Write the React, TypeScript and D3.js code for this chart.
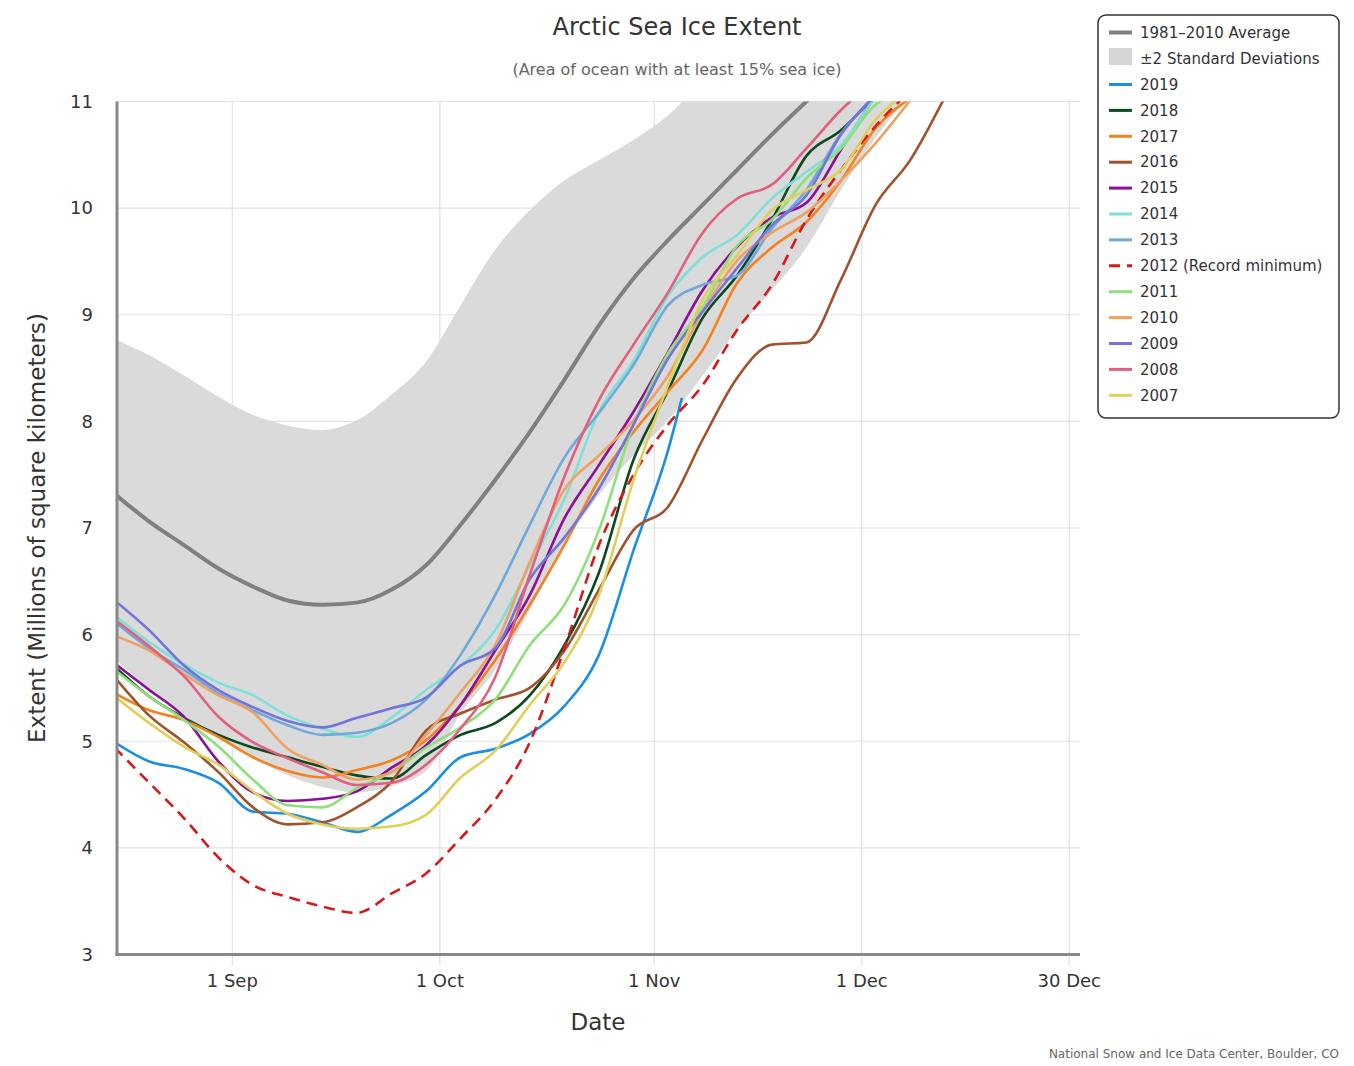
import React from "react";
import * as d3 from "d3";

// sample days (day of year), every 5 days from mid-August
const days = [227, 232, 237, 242, 247, 252, 257, 262, 267, 272, 277, 282, 287, 292, 297, 302, 307, 312, 317, 322, 327, 332, 337, 342, 347];

const avg = [7.32, 7.06, 6.84, 6.62, 6.45, 6.32, 6.28, 6.3, 6.42, 6.65, 7.03, 7.45, 7.9, 8.39, 8.9, 9.34, 9.7, 10.03, 10.36, 10.69, 11.0, 11.3];
const bandHi = [8.77, 8.62, 8.43, 8.23, 8.06, 7.96, 7.92, 8.01, 8.25, 8.56, 9.09, 9.61, 9.98, 10.26, 10.45, 10.64, 10.87, 11.2, 11.5, 11.8, 12.1, 12.4, 12.7, 13.0];
const bandLo = [5.78, 5.48, 5.24, 5.03, 4.84, 4.68, 4.57, 4.52, 4.58, 4.72, 5.26, 5.67, 6.23, 6.84, 7.31, 7.68, 8.01, 8.43, 8.86, 9.23, 9.63, 10.17, 10.66, 11.06];

const y2019 = [4.99, 4.81, 4.74, 4.61, 4.34, 4.32, 4.24, 4.15, 4.31, 4.53, 4.85, 4.93, 5.07, 5.33, 5.81, 6.79, 7.73];
const y2018 = [5.7, 5.42, 5.22, 5.06, 4.94, 4.85, 4.76, 4.68, 4.65, 4.87, 5.06, 5.17, 5.43, 5.9, 6.58, 7.64, 8.29, 8.97, 9.37, 9.89, 10.49, 10.73, 11.06];
const y2017 = [5.45, 5.29, 5.2, 5.04, 4.85, 4.72, 4.66, 4.73, 4.82, 5.01, 5.34, 5.76, 6.28, 6.84, 7.45, 7.9, 8.28, 8.67, 9.3, 9.63, 9.87, 10.26, 10.75, 11.03];
const y2016 = [5.6, 5.24, 4.99, 4.71, 4.38, 4.22, 4.24, 4.38, 4.62, 5.1, 5.26, 5.39, 5.5, 5.85, 6.42, 6.98, 7.2, 7.83, 8.41, 8.72, 8.74, 9.33, 10.03, 10.45, 11.04];
const y2015 = [5.73, 5.48, 5.23, 4.81, 4.52, 4.44, 4.46, 4.53, 4.75, 4.96, 5.34, 5.85, 6.37, 7.09, 7.59, 8.09, 8.65, 9.23, 9.64, 9.91, 10.05, 10.55, 11.06];
const y2014 = [6.18, 5.93, 5.72, 5.55, 5.43, 5.24, 5.12, 5.04, 5.22, 5.48, 5.71, 6.04, 6.65, 7.27, 8.09, 8.57, 9.18, 9.54, 9.75, 10.09, 10.34, 10.59, 11.06];
const y2013 = [6.12, 5.87, 5.67, 5.45, 5.29, 5.15, 5.06, 5.08, 5.17, 5.39, 5.81, 6.37, 7.03, 7.66, 8.08, 8.53, 9.09, 9.28, 9.37, 9.81, 10.17, 10.7, 11.06];
const y2012 = [4.94, 4.61, 4.28, 3.91, 3.65, 3.54, 3.45, 3.39, 3.57, 3.76, 4.09, 4.45, 4.99, 5.87, 6.84, 7.5, 7.97, 8.34, 8.86, 9.28, 9.89, 10.36, 10.77, 11.1];
const y2011 = [5.67, 5.42, 5.2, 4.95, 4.64, 4.4, 4.38, 4.56, 4.71, 4.94, 5.13, 5.39, 5.9, 6.28, 6.98, 7.97, 8.64, 9.07, 9.65, 9.89, 10.28, 10.56, 10.97, 11.1];
const y2010 = [5.99, 5.85, 5.63, 5.43, 5.27, 4.93, 4.78, 4.64, 4.71, 5.06, 5.46, 5.9, 6.68, 7.36, 7.68, 8.01, 8.43, 9.03, 9.51, 9.77, 9.96, 10.26, 10.61, 11.01];
const y2009 = [6.32, 6.04, 5.71, 5.48, 5.32, 5.19, 5.13, 5.22, 5.31, 5.41, 5.71, 5.87, 6.52, 6.91, 7.37, 7.97, 8.59, 9.03, 9.44, 9.84, 10.12, 10.69, 11.06];
const y2008 = [6.14, 5.89, 5.61, 5.23, 4.99, 4.84, 4.71, 4.59, 4.61, 4.78, 5.12, 5.6, 6.56, 7.48, 8.2, 8.72, 9.21, 9.77, 10.09, 10.22, 10.56, 10.92, 11.2];
const y2007 = [5.42, 5.17, 4.95, 4.78, 4.53, 4.32, 4.22, 4.18, 4.2, 4.31, 4.66, 4.91, 5.34, 5.74, 6.37, 7.45, 8.34, 9.14, 9.56, 9.98, 10.17, 10.36, 10.83, 11.1];

// 2019 ends partway: extra last point
const end2019 = { day: 309, value: 8.22 };

const years = ["2019", "2018", "2017", "2016", "2015", "2014", "2013", "2012 (Record minimum)", "2011", "2010", "2009", "2008", "2007"];
const yearValues = [y2019, y2018, y2017, y2016, y2015, y2014, y2013, y2012, y2011, y2010, y2009, y2008, y2007];
const yearColors = ["#1a8fe3", "#0b4a1c", "#f5821f", "#a0522d", "#8b0f97", "#80e0d8", "#6fa8dc", "#d7191c", "#8ee07a", "#f0a060", "#7373dc", "#e0607e", "#e0cf5a"];

const xTicks = [244, 274, 305, 335, 365];
const xTickLabels = ["1 Sep", "1 Oct", "1 Nov", "1 Dec", "30 Dec"];
const yTicks = [3, 4, 5, 6, 7, 8, 9, 10, 11];

const W = 1354;
const H = 1066;
const FONT = "'DejaVu Sans', sans-serif";

export default function App() {
  const left = 117, right = 1080, top = 101.5, bottom = 954.5;
  const x = d3.scaleLinear().domain([227.33, 366.55]).range([left, right]);
  const y = d3.scaleLinear().domain([3, 11]).range([bottom, top]);

  const line = d3
    .line<[number, number]>()
    .x((d) => x(d[0]))
    .y((d) => y(d[1]))
    .curve(d3.curveMonotoneX);

  const pairs = (vals: number[]) => vals.map((v, i) => [days[i], v] as [number, number]);

  const area = d3
    .area<number>()
    .x((_, i) => x(days[i]))
    .y0((_, i) => y(bandLo[i]))
    .y1((d) => y(d))
    .curve(d3.curveMonotoneX);
  const bandN = Math.min(bandHi.length, bandLo.length);

  const legendItems = years.map((name, i) => ({ name, color: yearColors[i], dashed: i === 7 }));

  return (
    <div style={{ position: "absolute", left: 0, top: 0 }}>
      <svg width={W} height={H} style={{ display: "block", background: "#fff" }} fontFamily={FONT}>
        <defs>
          <clipPath id="plot">
            <rect x={left} y={top} width={right - left} height={bottom - top} />
          </clipPath>
        </defs>

        <text x={677} y={35} textAnchor="middle" fontSize={24} fill="#333">Arctic Sea Ice Extent</text>
        <text x={677} y={75} textAnchor="middle" fontSize={16} fill="#666">(Area of ocean with at least 15% sea ice)</text>

        {/* grid */}
        {yTicks.filter((t) => t > 3).map((t) => (
          <line key={"gy" + t} x1={left} x2={right} y1={y(t)} y2={y(t)} stroke="#e2e2e2" strokeWidth={1.2} />
        ))}
        {xTicks.map((t) => (
          <line key={"gx" + t} x1={x(t)} x2={x(t)} y1={top} y2={bottom + 11} stroke="#e0e0e6" strokeWidth={1.2} />
        ))}

        <g clipPath="url(#plot)">
          <path d={area(bandHi.slice(0, bandN)) || ""} fill="#dadada" />
          <path d={line(pairs(avg)) || ""} fill="none" stroke="#808080" strokeWidth={4} />
          {yearValues.map((vals, i) => {
            const pts = pairs(vals);
            if (i === 0) pts.push([end2019.day, end2019.value]);
            return (
              <path
                key={years[i]}
                d={line(pts) || ""}
                fill="none"
                stroke={yearColors[i]}
                strokeWidth={2.6}
                strokeDasharray={i === 7 ? "11,7" : undefined}
                strokeLinejoin="round"
              />
            );
          })}
        </g>

        {/* axes */}
        <line x1={left} x2={left} y1={top} y2={bottom + 1.5} stroke="#888" strokeWidth={3} />
        <line x1={left - 1.5} x2={right} y1={bottom} y2={bottom} stroke="#888" strokeWidth={3} />

        {yTicks.map((t) => (
          <text key={"ty" + t} x={93} y={y(t)} dy="0.35em" textAnchor="end" fontSize={18} fill="#333">{t}</text>
        ))}
        {xTicks.map((t, i) => (
          <text key={"tx" + t} x={x(t)} y={987} textAnchor="middle" fontSize={18} fill="#333">{xTickLabels[i]}</text>
        ))}

        <text x={598} y={1030} textAnchor="middle" fontSize={23} fill="#333">Date</text>
        <text transform="translate(45,528) rotate(-90)" textAnchor="middle" fontSize={23} fill="#333">
          Extent (Millions of square kilometers)
        </text>

        {/* legend */}
        <rect x={1098} y={15} width={241} height={403} rx={8} fill="#fff" stroke="#333" strokeWidth={1.5} />
        <g fontSize={15} fill="#333">
          <line x1={1109} x2={1132} y1={32.5} y2={32.5} stroke="#808080" strokeWidth={4} />
          <text x={1140} y={32.5} dy="0.35em">1981–2010 Average</text>
          <rect x={1109} y={48} width={23} height={17} fill="#d6d6d6" />
          <text x={1140} y={58.5} dy="0.35em">±2 Standard Deviations</text>
          {legendItems.map((it, i) => {
            const ly = 84.5 + i * 25.9;
            return (
              <g key={it.name}>
                <line x1={1109} x2={1132} y1={ly} y2={ly} stroke={it.color} strokeWidth={3} strokeDasharray={it.dashed ? "11,7" : undefined} />
                <text x={1140} y={ly} dy="0.35em">{it.name}</text>
              </g>
            );
          })}
        </g>

        <text x={1339} y={1058} textAnchor="end" fontSize={12} fill="#666">National Snow and Ice Data Center, Boulder, CO</text>
      </svg>
    </div>
  );
}
